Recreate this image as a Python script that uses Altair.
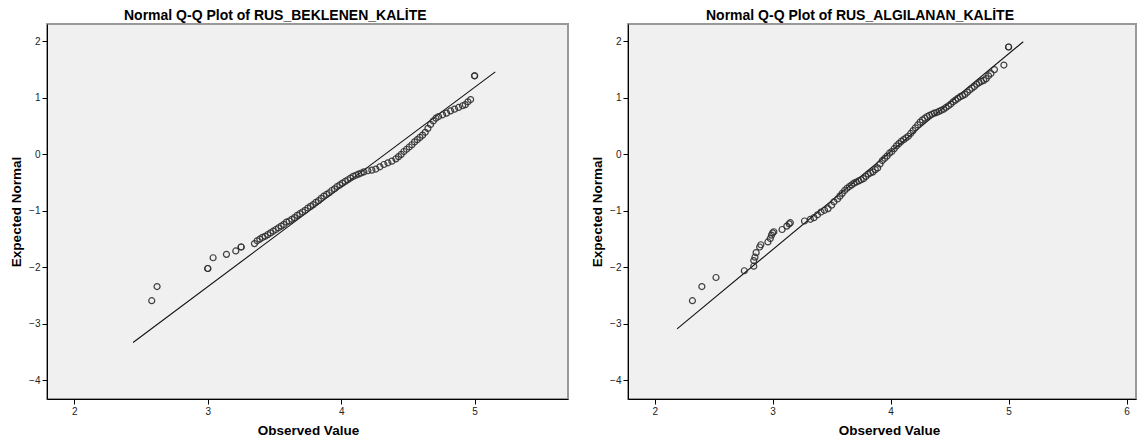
import altair as alt
import pandas as pd

LEFT_TITLE = "Normal Q-Q Plot of RUS_BEKLENEN_KALİTE"
RIGHT_TITLE = "Normal Q-Q Plot of RUS_ALGILANAN_KALİTE"

left_observed = [
    2.58, 2.62, 3.00, 3.00, 3.04, 3.14, 3.21, 3.25, 3.25, 3.35,
    3.37, 3.39, 3.41, 3.43, 3.45, 3.47, 3.49, 3.51, 3.53, 3.55,
    3.57, 3.59, 3.61, 3.63, 3.65, 3.67, 3.69, 3.71, 3.73, 3.75,
    3.77, 3.79, 3.81, 3.83, 3.85, 3.87, 3.89, 3.91, 3.93, 3.95,
    3.97, 3.99, 4.01, 4.03, 4.05, 4.07, 4.09, 4.11, 4.13, 4.15,
    4.17, 4.20, 4.23, 4.26, 4.29, 4.32, 4.35, 4.38, 4.41, 4.43,
    4.45, 4.47, 4.49, 4.51, 4.53, 4.55, 4.57, 4.59, 4.61, 4.63,
    4.65, 4.67, 4.69, 4.71, 4.73, 4.76, 4.79, 4.82, 4.85, 4.88,
    4.91, 4.93, 4.95, 4.97, 5.00, 5.00,
]
left_expected = [
    -2.59, -2.34, -2.02, -2.02, -1.83, -1.77, -1.71, -1.64, -1.64, -1.58,
    -1.53, -1.50, -1.47, -1.45, -1.42, -1.39, -1.36, -1.33, -1.30, -1.27,
    -1.24, -1.20, -1.18, -1.15, -1.12, -1.08, -1.05, -1.02, -0.99, -0.95,
    -0.92, -0.89, -0.85, -0.82, -0.78, -0.74, -0.71, -0.68, -0.64, -0.61,
    -0.57, -0.54, -0.51, -0.48, -0.45, -0.42, -0.39, -0.37, -0.35, -0.33,
    -0.31, -0.29, -0.28, -0.26, -0.22, -0.18, -0.15, -0.12, -0.08, -0.04,
    0.00, 0.05, 0.09, 0.13, 0.17, 0.22, 0.26, 0.30, 0.34, 0.39,
    0.46, 0.53, 0.59, 0.64, 0.67, 0.70, 0.73, 0.77, 0.80, 0.83,
    0.86, 0.88, 0.93, 0.97, 1.39, 1.39,
]

right_observed = [
    2.32, 2.40, 2.52, 2.76, 2.84, 2.84, 2.85, 2.86, 2.89, 2.90,
    2.96, 2.98, 2.99, 3.00, 3.01, 3.08, 3.12, 3.14, 3.15, 3.27,
    3.32, 3.35, 3.38, 3.41, 3.44, 3.47, 3.50, 3.52, 3.55, 3.57,
    3.59, 3.61, 3.63, 3.65, 3.67, 3.69, 3.71, 3.73, 3.75, 3.77,
    3.79, 3.81, 3.83, 3.85, 3.87, 3.89, 3.91, 3.93, 3.95, 3.97,
    3.99, 4.01, 4.03, 4.05, 4.07, 4.09, 4.11, 4.13, 4.15, 4.17,
    4.19, 4.21, 4.23, 4.25, 4.27, 4.29, 4.31, 4.33, 4.35, 4.37,
    4.39, 4.41, 4.43, 4.45, 4.47, 4.49, 4.51, 4.53, 4.55, 4.57,
    4.59, 4.61, 4.63, 4.65, 4.67, 4.69, 4.71, 4.73, 4.75, 4.77,
    4.79, 4.81, 4.83, 4.85, 4.88, 4.96, 5.00, 5.00,
]
right_expected = [
    -2.59, -2.34, -2.18, -2.06, -1.98, -1.88, -1.82, -1.74, -1.64, -1.60,
    -1.55, -1.49, -1.43, -1.39, -1.37, -1.33, -1.27, -1.23, -1.21, -1.18,
    -1.15, -1.12, -1.07, -1.02, -0.99, -0.96, -0.90, -0.84, -0.79, -0.74,
    -0.69, -0.64, -0.60, -0.57, -0.54, -0.51, -0.49, -0.47, -0.45, -0.43,
    -0.39, -0.35, -0.33, -0.31, -0.27, -0.24, -0.17, -0.11, -0.07, -0.03,
    0.02, 0.05, 0.10, 0.15, 0.19, 0.23, 0.26, 0.29, 0.32, 0.37,
    0.42, 0.47, 0.52, 0.57, 0.61, 0.64, 0.67, 0.69, 0.71, 0.73,
    0.74, 0.76, 0.78, 0.80, 0.83, 0.86, 0.89, 0.93, 0.96, 0.99,
    1.02, 1.04, 1.06, 1.10, 1.14, 1.17, 1.20, 1.24, 1.27, 1.29,
    1.31, 1.34, 1.39, 1.43, 1.50, 1.58, 1.90, 1.90,
]

left_line_x = [2.44, 5.155]
left_line_y = [-3.33, 1.46]
right_line_x = [2.19, 5.124]
right_line_y = [-3.09, 1.993]

left_xticks = [2, 3, 4, 5]
right_xticks = [2, 3, 4, 5, 6]
y_ticks = [-4, -3, -2, -1, 0, 1, 2]
left_xdomain = [1.795, 5.70]
right_xdomain = [1.774, 6.08]
y_domain = [-4.33, 2.307]

FONT = "Liberation Sans"
PLOT_H = 375


def panel(title, obs, exp, lx, ly, xdom, xticks, width, title_dx):
    pts = pd.DataFrame({"Observed": obs, "Expected": exp})
    ln = pd.DataFrame({"Observed": lx, "Expected": ly})
    x = alt.X(
        "Observed:Q",
        scale=alt.Scale(domain=xdom, nice=False, zero=False),
        axis=alt.Axis(values=xticks, title="Observed Value", titleX=261,
                      titleY=35, titleBaseline="alphabetic"),
    )
    y = alt.Y(
        "Expected:Q",
        scale=alt.Scale(domain=y_domain, nice=False, zero=False),
        axis=alt.Axis(values=y_ticks, title="Expected Normal", titleX=-27,
                      titleBaseline="alphabetic"),
    )
    line = alt.Chart(ln).mark_line(color="#111111", strokeWidth=1.1).encode(x=x, y=y)
    points = alt.Chart(pts).mark_point(
        shape="circle", filled=False, size=36, strokeWidth=1.2,
        color="#2e2e2e", opacity=0.9,
    ).encode(x=x, y=y)
    return alt.layer(line, points).properties(
        width=width,
        height=PLOT_H,
        title=alt.TitleParams(title, dx=title_dx, anchor="start", frame="group",
                              offset=1),
    )


left = panel(LEFT_TITLE, left_observed, left_expected, left_line_x, left_line_y,
             left_xdomain, left_xticks, 521, 77)
right = panel(RIGHT_TITLE, right_observed, right_expected, right_line_x, right_line_y,
              right_xdomain, right_xticks, 508, 78)

chart = (
    alt.hconcat(left, right, spacing=20)
    .resolve_scale(x="independent", y="independent")
    .properties(padding=0, background="white")
    .configure_view(fill="#f0f0f0", stroke="#999999", strokeWidth=2)
    .configure_axis(
        grid=False,
        domainColor="black",
        domainWidth=1,
        tickColor="black",
        tickSize=5,
        labelFont=FONT,
        labelFontSize=10,
        labelColor="#222222",
        labelPadding=2,
        titleFont=FONT,
        titleFontSize=13.5,
        titleFontWeight="bold",
        titleColor="black",
    )
    .configure_title(font=FONT, fontSize=14, fontWeight="bold", color="black")
)

chart.save("out.html", embed_options={"renderer": "svg", "actions": False})
